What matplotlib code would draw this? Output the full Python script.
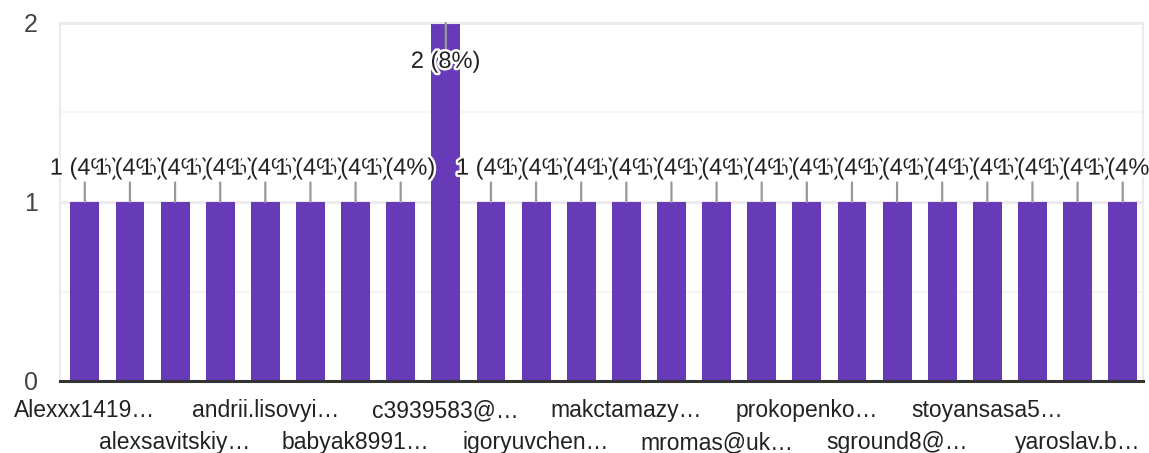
import matplotlib
matplotlib.use("Agg")
import matplotlib.pyplot as plt
import matplotlib.patheffects as pe
import numpy as np

# responses per answer (24 bars), only every other label is shown on the axis
counts = [1, 1, 1, 1, 1, 1, 1, 1, 2, 1, 1, 1,
          1, 1, 1, 1, 1, 1, 1, 1, 1, 1, 1, 1]
shown_labels = ["Alexxx1419…", "alexsavitskiy…", "andrii.lisovyi…", "babyak8991…",
                "c3939583@…", "igoryuvchen…", "makctamazy…", "mromas@uk…",
                "prokopenko…", "sground8@…", "stoyansasa5…", "yaroslav.b…"]
y_ticks = [0, 1, 2]

plt.rcParams['font.family'] = ['Liberation Sans', 'DejaVu Sans']

BAR = '#673ab7'
GRID = '#ebebeb'

fig = plt.figure(figsize=(11.49, 4.53), dpi=100)
ax = fig.add_axes([60 / 1149, 1 - 381 / 453, 1083 / 1149, 358 / 453])

x = np.arange(len(counts))
ax.bar(x, counts, width=0.64, color=BAR, zorder=2)

ax.set_xlim(-0.55, len(counts) - 0.55)
ax.set_ylim(0, max(y_ticks))

# grid
ax.set_yticks(y_ticks)
ax.set_yticks([0.5, 1.5], minor=True)
ax.yaxis.grid(True, which='major', color=GRID, lw=2, zorder=0)
ax.yaxis.grid(True, which='minor', color='#f5f5f5', lw=1.5, zorder=0)
ax.tick_params(axis='y', which='both', length=0, pad=16, labelsize=18, labelcolor='#444')

for side in ['left', 'right', 'top']:
    ax.spines[side].set_color(GRID)
    ax.spines[side].set_linewidth(1.5)
ax.spines['bottom'].set_color('#333333')
ax.spines['bottom'].set_linewidth(2.2)
ax.spines['bottom'].set_zorder(3)

# x labels, two staggered rows
row1 = x[::4]
row2 = x[2::4]
ax.set_xticks(row1)
ax.set_xticklabels(shown_labels[::2])
ax.set_xticks(row2, minor=True)
ax.set_xticklabels(shown_labels[1::2], minor=True)
ax.tick_params(axis='x', which='major', length=0, pad=13, labelsize=16.5, labelcolor='#222')
ax.tick_params(axis='x', which='minor', length=0, pad=36, labelsize=16.5, labelcolor='#222')

# value labels with leader lines
total = sum(counts)
top = max(y_ticks)
for i, c in enumerate(counts):
    txt = "{} ({:.0f}%)".format(c, c / total * 100)
    off = -28 if c >= top else 24
    ax.annotate(txt, xy=(i, c), xytext=(0, off), textcoords='offset points',
                ha='center', va='center', fontsize=17, color='#222',
                path_effects=[pe.withStroke(linewidth=3.5, foreground='white')],
                arrowprops=dict(arrowstyle='-', color='#999999', lw=1.6,
                                shrinkA=0, shrinkB=0),
                annotation_clip=False, zorder=4)

fig.savefig("out.png", dpi=100)
